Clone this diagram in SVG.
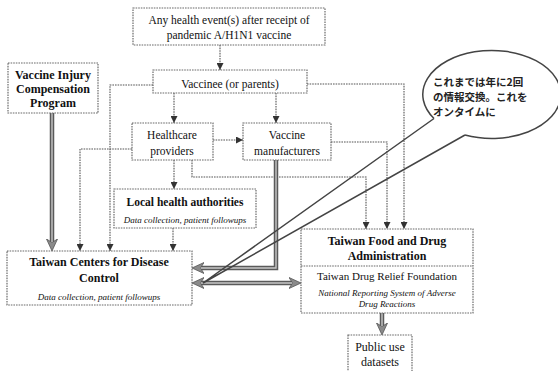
<svg xmlns="http://www.w3.org/2000/svg" width="558" height="371" viewBox="0 0 558 371">
<defs>
<style>
.box{fill:#fff;stroke:#6a6a6a;stroke-width:1.2;stroke-dasharray:1.6 1}
.t{font-family:"Times New Roman","Liberation Serif","DejaVu Serif",serif;fill:#111;text-anchor:middle}
.b{font-weight:bold}
.i{font-style:italic}
.thin{fill:none;stroke:#555;stroke-width:1.1;stroke-dasharray:1.6 1}
.thickO{fill:none;stroke:#5a5a5a;stroke-width:4.5}
.thickI{fill:none;stroke:#c8c8c8;stroke-width:1.4}
.jp{font-family:"Noto Sans CJK JP",sans-serif;font-size:10.5px;font-weight:bold;fill:#222}
</style>
<marker id="ah" viewBox="0 0 7 7" refX="7" refY="3.5" markerWidth="7" markerHeight="7" markerUnits="userSpaceOnUse" orient="auto">
<path d="M0,0 L7,3.5 L0,7 Z" fill="#333"/>
</marker>
<marker id="ahT" viewBox="0 0 12 12" refX="3" refY="6" markerWidth="12" markerHeight="12" markerUnits="userSpaceOnUse" orient="auto-start-reverse">
<path d="M0,0.5 L12,6 L0,11.5 L3.5,6 Z" fill="#8a8a8a" stroke="#555" stroke-width="0.8"/>
</marker>
</defs>
<rect width="558" height="371" fill="#fff"/>

<g id="connectors">
<path class="thin" d="M220,45 V70" marker-end="url(#ah)"/>
<path class="thin" d="M174,93 V123" marker-end="url(#ah)"/>
<path class="thin" d="M276,93 V123" marker-end="url(#ah)"/>
<path class="thin" d="M213,140 H243" marker-end="url(#ah)"/>
<path class="thin" d="M174,160 V189" marker-end="url(#ah)"/>
<path class="thin" d="M173,228 V251" marker-end="url(#ah)"/>
<path class="thin" d="M153,85 H110 V251" marker-end="url(#ah)"/>
<path class="thin" d="M132,149 H80 V251" marker-end="url(#ah)"/>
<path class="thin" d="M307,84 H404 V229" marker-end="url(#ah)"/>
<path class="thin" d="M331,142 H387 V229" marker-end="url(#ah)"/>
<path class="thin" d="M192,160 V177 H366 V229" marker-end="url(#ah)"/>
<path class="thickO" d="M52,113 V242" marker-end="url(#ahT)"/>
<path class="thickI" d="M52,113 V242"/>
<path class="thickO" d="M276,160 V268 H201" marker-end="url(#ahT)"/>
<path class="thickI" d="M276,160 V268 H201"/>
<path class="thickO" d="M201,283 H292" marker-start="url(#ahT)" marker-end="url(#ahT)"/>
<path class="thickI" d="M201,283 H292"/>
<path class="thickO" d="M382,313 V326" marker-end="url(#ahT)"/>
<path class="thickI" d="M382,313 V326"/>
</g>

<g id="health-event">
<rect class="box" x="133" y="8" width="192" height="37"/>
<text class="t" x="229" y="24" font-size="11.5">Any health event(s) after receipt of</text>
<text class="t" x="229" y="39" font-size="11.5">pandemic A/H1N1 vaccine</text>
</g>

<g id="vaccinee">
<rect class="box" x="153" y="70" width="154" height="23"/>
<text class="t" x="230" y="88" font-size="11.5">Vaccinee (or parents)</text>
</g>

<g id="vicp">
<rect class="box" x="8" y="63" width="90" height="50"/>
<text class="t b" x="53" y="79" font-size="12">Vaccine Injury</text>
<text class="t b" x="53" y="93" font-size="12">Compensation</text>
<text class="t b" x="53" y="107" font-size="12">Program</text>
</g>

<g id="healthcare">
<rect class="box" x="132" y="123" width="81" height="37"/>
<text class="t" x="172" y="139" font-size="11.5">Healthcare</text>
<text class="t" x="172" y="155" font-size="11.5">providers</text>
</g>

<g id="manufacturers">
<rect class="box" x="243" y="123" width="88" height="37"/>
<text class="t" x="287" y="139" font-size="11.5">Vaccine</text>
<text class="t" x="287" y="155" font-size="11.5">manufacturers</text>
</g>

<g id="local">
<rect class="box" x="114" y="189" width="142" height="39"/>
<text class="t b" x="185" y="206" font-size="11.5">Local health authorities</text>
<text class="t i" x="185" y="223" font-size="9">Data collection, patient followups</text>
</g>

<g id="cdc">
<rect class="box" x="7" y="251" width="185" height="54"/>
<text class="t b" x="99" y="266" font-size="12">Taiwan Centers for Disease</text>
<text class="t b" x="99" y="282" font-size="12">Control</text>
<text class="t i" x="99" y="300" font-size="9">Data collection, patient followups</text>
</g>

<g id="fda">
<rect class="box" x="301" y="229" width="172" height="84"/>
<line x1="301" y1="266" x2="473" y2="266" stroke="#6a6a6a" stroke-width="1.2" stroke-dasharray="1.6 1"/>
<text class="t b" x="387" y="245" font-size="12">Taiwan Food and Drug</text>
<text class="t b" x="387" y="260" font-size="12">Administration</text>
<text class="t" x="387" y="280" font-size="11">Taiwan Drug Relief Foundation</text>
<text class="t i" x="387" y="296" font-size="9">National Reporting System of Adverse</text>
<text class="t i" x="387" y="307" font-size="9">Drug Reactions</text>
</g>

<g id="public">
<rect class="box" x="348" y="335" width="64" height="42"/>
<text class="t" x="380" y="351" font-size="12">Public use</text>
<text class="t" x="380" y="366" font-size="12">datasets</text>
</g>

<g id="callout">
<path d="M434,118.5 A69,44 0 1 1 465,135" fill="#fff" stroke="#444" stroke-width="1.5"/>
<path d="M465,135 L203,283 L434,118.5" fill="none" stroke="#444" stroke-width="1.5"/>
<text class="jp" x="433" y="86">これまでは年に2回</text>
<text class="jp" x="433" y="101">の情報交換。これを</text>
<text class="jp" x="433" y="116">オンタイムに</text>
</g>
</svg>
